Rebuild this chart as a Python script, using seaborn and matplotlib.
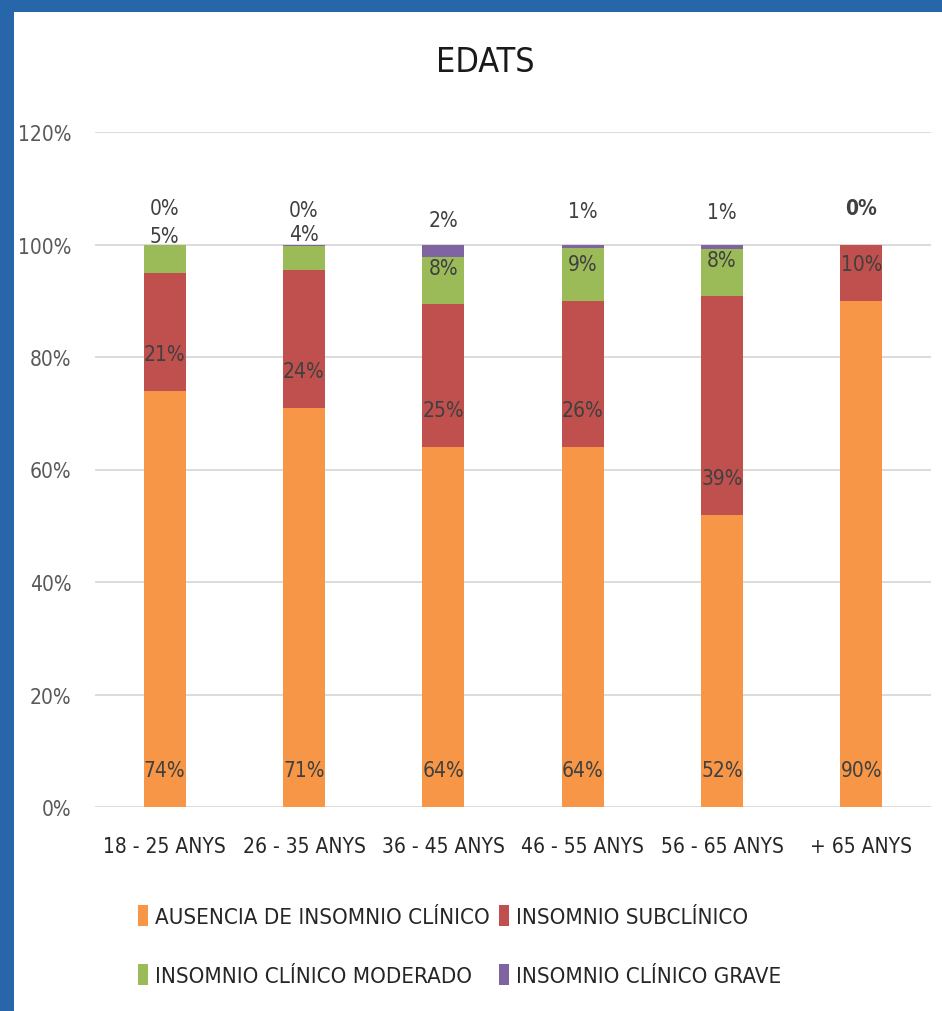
import matplotlib
matplotlib.use("Agg")
import matplotlib.pyplot as plt
from matplotlib.patches import Patch, Rectangle
import numpy as np
import seaborn as sns

categories = ["18 - 25 ANYS", "26 - 35 ANYS", "36 - 45 ANYS", "46 - 55 ANYS", "56 - 65 ANYS", "+ 65 ANYS"]
ausencia = [74.0, 71.0, 64.0, 64.0, 52.0, 90.0]
subclinico = [21.0, 24.4, 25.4, 26.0, 38.8, 10.0]
moderado = [5.0, 4.3, 8.4, 9.4, 8.4, 0.0]
grave = [0.0, 0.3, 2.2, 0.6, 0.8, 0.0]
series_names = ["AUSENCIA DE INSOMNIO CLÍNICO", "INSOMNIO SUBCLÍNICO",
                "INSOMNIO CLÍNICO MODERADO", "INSOMNIO CLÍNICO GRAVE"]
colors = ["#F79646", "#C0504D", "#9BBB59", "#8064A2"]
yticks = [0, 20, 40, 60, 80, 100, 120]

sns.set_theme(style="white")
plt.rcParams["font.family"] = ["DejaVu Sans"]
plt.rcParams["font.stretch"] = "condensed"

fig = plt.figure(figsize=(9.42, 10.12), dpi=100)
fig.patch.set_facecolor("white")
ax = fig.add_axes([95 / 942, 1 - 808 / 1012, 836 / 942, 675 / 1012])

series = [ausencia, subclinico, moderado, grave]
cums = np.cumsum(np.array(series), axis=0)
for k in range(3, -1, -1):
    sns.barplot(x=categories, y=cums[k], color=colors[k], width=0.3,
                saturation=1, ax=ax, zorder=3, linewidth=0)

ax.set_ylim(0, 120)
ax.set_yticks(yticks)
ax.set_yticklabels([f"{v}%" for v in yticks])
ax.yaxis.grid(True, color="#d9d9d9", linewidth=1.3, zorder=0)
ax.xaxis.grid(False)
ax.set_axisbelow(True)
for s in ax.spines.values():
    s.set_visible(False)
ax.tick_params(axis="y", length=0, pad=17, labelsize=15, labelcolor="#595959")
ax.tick_params(axis="x", length=0, pad=21, labelsize=15, labelcolor="#262626")
ax.set_xlabel("")
ax.set_ylabel("")
ax.set_xlim(-0.5, 5.5)

bases = np.vstack([np.zeros(len(categories)), cums[:-1]])
for k in range(4):
    for i in range(len(categories)):
        if i == 5 and k == 2:
            continue
        if i == 5 and k == 3:
            ax.text(i, bases[k][i] + 6.5, "0%", ha="center", va="center",
                    fontsize=15, color="#404040", fontweight="bold", zorder=5)
            continue
        ax.text(i, bases[k][i] + 6.5, f"{series[k][i]:.0f}%", ha="center", va="center",
                fontsize=15, color="#404040", zorder=5)

fig.text(485 / 942, 1 - 62 / 1012, "EDATS", ha="center", va="center",
         fontsize=24.5, color="#1a1a1a")

handles = [Patch(facecolor=c, edgecolor="none") for c in colors]
order = [0, 2, 1, 3]
leg = fig.legend([handles[o] for o in order], [series_names[o] for o in order],
                 ncol=2, loc="upper left", bbox_to_anchor=(138 / 942, 1 - 906 / 1012),
                 frameon=False, fontsize=16, handlelength=0.45, handleheight=1.1,
                 handletextpad=0.3, columnspacing=0.45, labelspacing=1.65, borderpad=0,
                 borderaxespad=0)
for t in leg.get_texts():
    t.set_color("#262626")

blue = "#2767a9"
fig.add_artist(Rectangle((0, 1 - 13 / 1012), 1, 13 / 1012, transform=fig.transFigure,
                         facecolor=blue, edgecolor="none"))
fig.add_artist(Rectangle((0, 0), 14 / 942, 1, transform=fig.transFigure,
                         facecolor=blue, edgecolor="none"))

fig.savefig("out.png", dpi=100, facecolor="white")
